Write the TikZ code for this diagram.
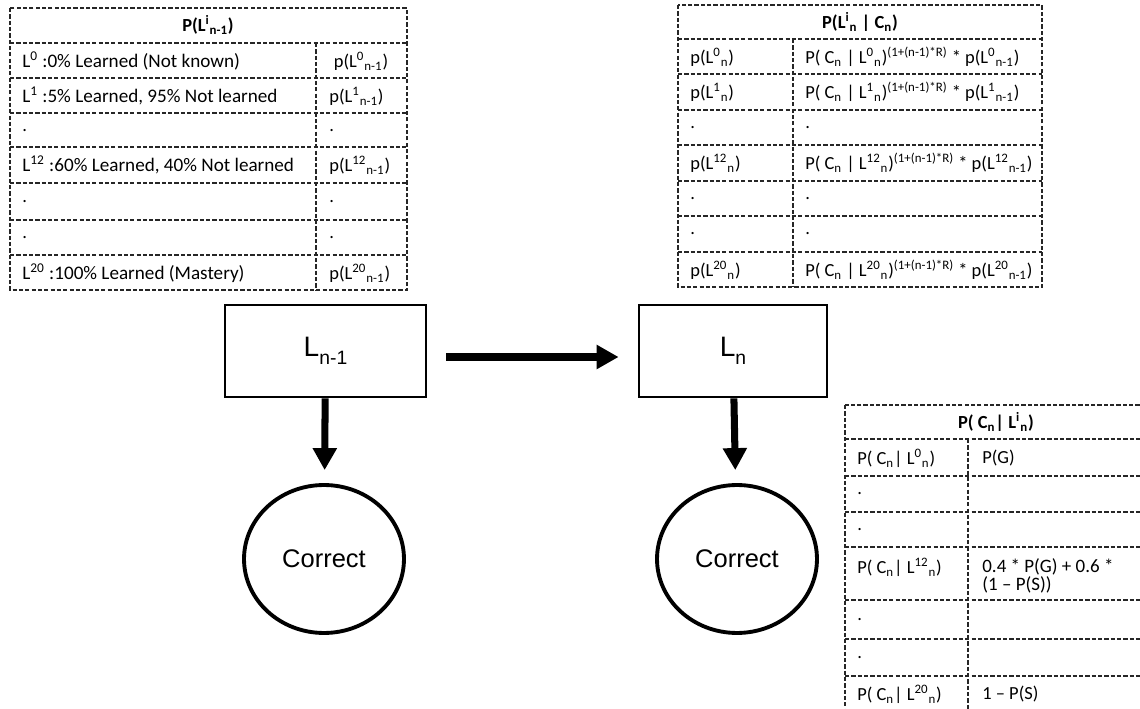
\documentclass[tikz,border=0pt]{standalone}
\usepackage{fontspec}
\setmainfont{Carlito}
\newfontfamily\arialfont{Liberation Sans}
\usepackage{tikz}
\usetikzlibrary{arrows,arrows.meta,positioning,shapes.geometric}

\newcommand{\Lsup}[2]{L\textsuperscript{#1}\textsubscript{#2}}
\newcommand{\lsub}[1]{\raisebox{-0.55ex}{\fontsize{11}{11}\selectfont #1}}

\begin{document}
\begin{tikzpicture}[x=0.02cm, y=-0.02cm]
\tikzstyle{grid} = [line width=0.95pt, black!85, dash pattern=on 2.4pt off 1.2pt]
\tikzstyle{every node} = [font=\fontsize{10.5}{12.6}\selectfont, inner sep=0pt]
\tikzstyle{txt} = [anchor=west]
\tikzstyle{desc} = [anchor=west, font=\fontsize{10.9}{12.6}\selectfont]
\tikzstyle{head} = [font=\fontsize{10.5}{12.6}\selectfont\bfseries]
\tikzstyle{state} = [draw, line width=1.6pt, minimum height=1.84cm, font=\arialfont\fontsize{16}{16}\selectfont]
\tikzstyle{obs} = [draw, ellipse, line width=2.2pt, minimum width=3.2cm, minimum height=2.96cm, font=\arialfont\fontsize{14.5}{14.5}\selectfont]
\tikzstyle{link} = [line width=4pt, -{Triangle[length=0.44cm, width=0.46cm]}]
\useasboundingbox (0,0) rectangle (1140,709);
\clip (0,0) rectangle (1140,709);

% prior table
\draw[grid] (10,8) rectangle (407,290);
\foreach \y in {43,78,113,147,183,220,255}
  \draw[grid] (10,\y) -- (407,\y);
\draw[grid] (316,43) -- (316,290);
\node[head] (ph) at (208,25) {P(\Lsup{i}{n-1})};
\node[desc] (p0) at (22,61) {L\textsuperscript{0} :0\% Learned (Not known)};
\node (q0) at (361,61) {p(\Lsup{0}{n-1})};
\node[desc] (p1) at (22,96) {L\textsuperscript{1} :5\% Learned, 95\% Not learned};
\node[txt] (q1) at (329,96) {p(\Lsup{1}{n-1})};
\node[txt] (p2) at (22,131) {.};
\node[txt] (q2) at (329,131) {.};
\node[desc] (p12) at (22,165) {L\textsuperscript{12} :60\% Learned, 40\% Not learned};
\node[txt] (q12) at (329,165) {p(\Lsup{12}{n-1})};
\node[txt] (p13) at (22,202) {.};
\node[txt] (q13) at (329,202) {.};
\node[txt] (p14) at (22,238) {.};
\node[txt] (q14) at (329,238) {.};
\node[desc] (p20) at (22,273) {L\textsuperscript{20} :100\% Learned (Mastery)};
\node[txt] (q20) at (329,273) {p(\Lsup{20}{n-1})};

% posterior table
\draw[grid] (678,5) rectangle (1042,287);
\foreach \y in {39,74,110,145,181,216,252}
  \draw[grid] (678,\y) -- (1042,\y);
\draw[grid] (793,39) -- (793,287);
\node[head] (rh) at (860,22) {P(\Lsup{i}{n} | C\textsubscript{n})};
\node[txt] (r0) at (690,57) {p(\Lsup{0}{n})};
\node[txt] (s0) at (805,57) {P( C\textsubscript{n} | \Lsup{0}{n})\textsuperscript{(1+(n-1)*R)} * p(\Lsup{0}{n-1})};
\node[txt] (r1) at (690,92) {p(\Lsup{1}{n})};
\node[txt] (s1) at (805,92) {P( C\textsubscript{n} | \Lsup{1}{n})\textsuperscript{(1+(n-1)*R)} * p(\Lsup{1}{n-1})};
\node[txt] (r2) at (690,128) {.};
\node[txt] (s2) at (805,128) {.};
\node[txt] (r12) at (690,163) {p(\Lsup{12}{n})};
\node[txt] (s12) at (805,163) {P( C\textsubscript{n} | \Lsup{12}{n})\textsuperscript{(1+(n-1)*R)} * p(\Lsup{12}{n-1})};
\node[txt] (r13) at (690,199) {.};
\node[txt] (s13) at (805,199) {.};
\node[txt] (r14) at (690,234) {.};
\node[txt] (s14) at (805,234) {.};
\node[txt] (r20) at (690,270) {p(\Lsup{20}{n})};
\node[txt] (s20) at (805,270) {P( C\textsubscript{n} | \Lsup{20}{n})\textsuperscript{(1+(n-1)*R)} * p(\Lsup{20}{n-1})};

% emission table
\draw[grid] (845,405) rectangle (1147,712);
\foreach \y in {439,476,512,547,600,639,676}
  \draw[grid] (845,\y) -- (1147,\y);
\draw[grid] (968,439) -- (968,712);
\node[head] (eh) at (996,422) {P( C\textsubscript{n}| \Lsup{i}{n})};
\node[txt] (e0) at (857,458) {P( C\textsubscript{n}| \Lsup{0}{n})};
\node[txt] (f0) at (982,458) {P(G)};
\node[txt] (e1) at (857,494) {.};
\node[txt] (e2) at (857,530) {.};
\node[txt] (e12) at (857,567) {P( C\textsubscript{n}| \Lsup{12}{n})};
\node[anchor=north west, align=left, font=\fontsize{10.8}{10.2}\selectfont] (f12) at (982,558) {0.4 * P(G) + 0.6 *\\(1 -- P(S))};
\node[txt] (e13) at (857,620) {.};
\node[txt] (e14) at (857,658) {.};
\node[txt] (e20) at (857,694) {P( C\textsubscript{n}| \Lsup{20}{n})};
\node[txt] (f20) at (982,694) {1 -- P(S)};

% network
\node[state, minimum width=4.02cm] (prev) at (325.5,351) {L\lsub{n-1}};
\node[state, minimum width=3.76cm] (cur) at (733,351) {L\lsub{n}};
\node[obs] (cprev) at (324,559) {Correct};
\node[obs] (ccur) at (737,559) {Correct};
\draw[link, shorten <=0.38cm, shorten >=0.38cm] ([yshift=-0.12cm]prev.east) -- ([yshift=-0.12cm]cur.west);
\draw[link, shorten >=0.26cm] (prev) -- (cprev);
\draw[link, shorten >=0.26cm] (cur) -- (ccur);
\end{tikzpicture}
\end{document}
